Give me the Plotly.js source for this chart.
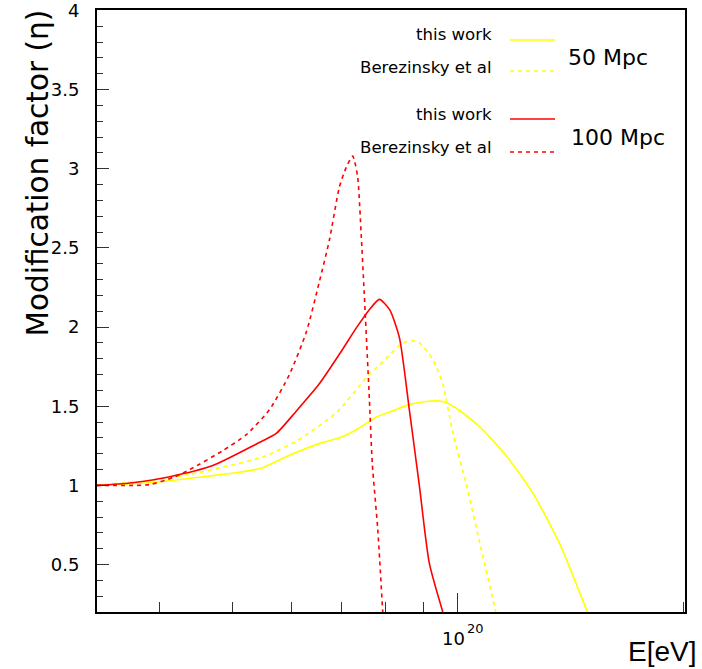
<!DOCTYPE html>
<html>
<head>
<meta charset="utf-8">
<script src="https://cdn.plot.ly/plotly-3.0.1.min.js"></script>
<style>html,body{margin:0;padding:0;background:#fff;}#chart{width:702px;height:669px;}</style>
</head>
<body>
<div id="chart"></div>
<script>
// Energy E [eV] and modification factor eta
const E_work50 = [3.30e19, 3.96e19, 4.67e19, 5.06e19, 5.48e19, 5.96e19, 6.59e19, 6.95e19, 7.31e19, 7.78e19, 8.18e19, 8.61e19, 9.06e19, 9.55e19, 9.93e19, 1.067e20, 1.159e20, 1.256e20, 1.365e20, 1.489e20];
const eta_work50 = [1.00, 1.02, 1.06, 1.08, 1.11, 1.19, 1.27, 1.30, 1.35, 1.43, 1.47, 1.51, 1.53, 1.53, 1.49, 1.375, 1.19, 0.96, 0.64, 0.20];

const E_ber50 = [3.30e19, 3.96e19, 4.39e19, 4.96e19, 5.50e19, 6.09e19, 6.89e19, 7.55e19, 7.94e19, 8.36e19, 8.61e19, 8.89e19, 9.25e19, 9.55e19, 9.84e19, 1.026e20, 1.067e20, 1.124e20];
const eta_ber50 = [1.00, 1.035, 1.07, 1.125, 1.18, 1.28, 1.46, 1.68, 1.78, 1.885, 1.915, 1.90, 1.80, 1.64, 1.34, 1.01, 0.66, 0.20];

const E_work100 = [3.30e19, 3.65e19, 4.13e19, 4.71e19, 5.38e19, 5.73e19, 6.09e19, 6.53e19, 7.02e19, 7.31e19, 7.62e19, 7.86e19, 8.11e19, 8.36e19, 8.61e19, 8.89e19, 9.16e19, 9.55e19];
const eta_work100 = [1.00, 1.015, 1.055, 1.125, 1.26, 1.33, 1.47, 1.64, 1.86, 1.99, 2.11, 2.175, 2.11, 1.93, 1.49, 0.99, 0.51, 0.20];

const E_ber100 = [3.30e19, 3.88e19, 4.17e19, 4.39e19, 4.86e19, 5.22e19, 5.61e19, 5.96e19, 6.28e19, 6.53e19, 6.74e19, 6.95e19, 7.10e19, 7.24e19, 7.35e19, 7.43e19, 7.50e19, 7.62e19, 7.69e19, 7.82e19, 7.94e19];
const eta_ber100 = [1.00, 1.005, 1.05, 1.10, 1.22, 1.32, 1.48, 1.70, 1.97, 2.28, 2.55, 2.885, 3.01, 3.08, 2.95, 2.59, 2.22, 1.55, 1.135, 0.72, 0.20];

const xMajorTicks = [1e20];
const xMajorBase = ['10'];
const xMajorExp = ['20'];
const xMinorTicks = [4e19, 5e19, 6e19, 7e19, 8e19, 9e19, 2e20];
const yTickVals = [0.5, 1, 1.5, 2, 2.5, 3, 3.5, 4];
const yTickText = ['0.5', '1', '1.5', '2', '2.5', '3', '3.5', '4'];

const legendLabels = ['this work', 'Berezinsky et al', 'this work', 'Berezinsky et al'];
const groupLabels = ['50 Mpc', '100 Mpc'];

const YEL = '#ffff00', RED = '#ff0000';
const FONT = 'DejaVu Sans, sans-serif';

function tr(x, y, color, dash) {
  return {x: x, y: y, type: 'scatter', mode: 'lines',
    line: {color: color, width: 1.6, dash: dash, shape: 'spline', smoothing: 0.6},
    hoverinfo: 'skip'};
}
const data = [
  tr(E_work50, eta_work50, YEL, 'solid'),
  tr(E_ber50, eta_ber50, YEL, '4px,4px'),
  tr(E_work100, eta_work100, RED, 'solid'),
  tr(E_ber100, eta_ber100, RED, '4px,4px')
];

// legend geometry (paper coords; plot area 97..685 x 10..612 px)
const legY = [0.9502, 0.8987, 0.8189, 0.7641];
const legTxtY = [0.9585, 0.9053, 0.8272, 0.7724];
const legColors = [YEL, YEL, RED, RED];
const legDash = ['solid', '4px,4px', 'solid', '4px,4px'];

const shapes = legY.map((yy, i) => ({
  type: 'line', xref: 'paper', yref: 'paper', x0: 0.7024, x1: 0.7789, y0: yy, y1: yy,
  line: {color: legColors[i], width: 1.6, dash: legDash[i]}
}));

const annotations = legendLabels.map((t, i) => ({
  text: t, xref: 'paper', yref: 'paper', x: 0.6752, y: legTxtY[i],
  xanchor: 'right', yanchor: 'middle', showarrow: false,
  font: {family: FONT, size: 16.6, color: '#000'}
}));
annotations.push({text: groupLabels[0], xref: 'paper', yref: 'paper', x: 0.798, y: 0.9219,
  xanchor: 'left', yanchor: 'middle', showarrow: false, font: {family: FONT, size: 22, color: '#000'}});
annotations.push({text: groupLabels[1], xref: 'paper', yref: 'paper', x: 0.803, y: 0.7890,
  xanchor: 'left', yanchor: 'middle', showarrow: false, font: {family: FONT, size: 22, color: '#000'}});
annotations.push({text: 'Modification factor (η)', xref: 'paper', yref: 'paper', x: -0.102, y: 1,
  xanchor: 'center', yanchor: 'top', yshift: 2, textangle: -90, showarrow: false,
  font: {family: FONT, size: 29.5, color: '#000'}});
annotations.push({text: 'E[eV]', xref: 'paper', yref: 'paper', x: 1.022, y: -0.066,
  xanchor: 'right', yanchor: 'middle', showarrow: false,
  font: {family: 'Liberation Sans, Arial, sans-serif', size: 28, color: '#000'}});
// x tick label 10^20 (base and exponent drawn at the tick's own log position)
xMajorTicks.forEach((v, i) => {
  annotations.push({
    text: xMajorBase[i], xref: 'x', yref: 'paper', x: Math.log10(v), y: 0,
    xanchor: 'center', yanchor: 'middle', xshift: -4, yshift: -26.5, showarrow: false,
    font: {family: FONT, size: 18, color: '#000'}
  });
  annotations.push({
    text: xMajorExp[i], xref: 'x', yref: 'paper', x: Math.log10(v), y: 0,
    xanchor: 'center', yanchor: 'middle', xshift: 18, yshift: -16.5, showarrow: false,
    font: {family: FONT, size: 13, color: '#000'}
  });
});

const layout = {
  width: 702, height: 669,
  margin: {l: 97, r: 17, t: 10, b: 57},
  paper_bgcolor: '#fff', plot_bgcolor: '#fff',
  showlegend: false,
  xaxis: {
    type: 'log', range: [Math.log10(3.3e19), Math.log10(2.01e20)],
    showgrid: false, zeroline: false,
    showline: true, linecolor: '#000', linewidth: 2, mirror: true,
    ticks: 'inside', ticklen: 19, tickwidth: 1, tickcolor: '#333',
    tickmode: 'array', tickvals: xMajorTicks,
    showticklabels: false,
    minor: {ticks: 'inside', tickvals: xMinorTicks, ticklen: 10, tickwidth: 1, tickcolor: '#333', showgrid: false}
  },
  yaxis: {
    range: [0.2, 4.003],
    tickmode: 'array', tickvals: yTickVals, ticktext: yTickText,
    showgrid: false, zeroline: false,
    showline: true, linecolor: '#000', linewidth: 2, mirror: true,
    ticks: 'inside', ticklen: 12, tickwidth: 1, tickcolor: '#333',
    ticklabelstandoff: 12, ticklabeloverflow: 'allow',
    tickfont: {family: FONT, size: 18, color: '#000'},
    minor: {ticks: 'inside', tickmode: 'linear', tick0: 0, dtick: 0.1, ticklen: 6, tickwidth: 1, tickcolor: '#333', showgrid: false}
  },
  shapes: shapes,
  annotations: annotations
};

Plotly.newPlot('chart', data, layout, {staticPlot: true, displayModeBar: false});
</script>
</body>
</html>
